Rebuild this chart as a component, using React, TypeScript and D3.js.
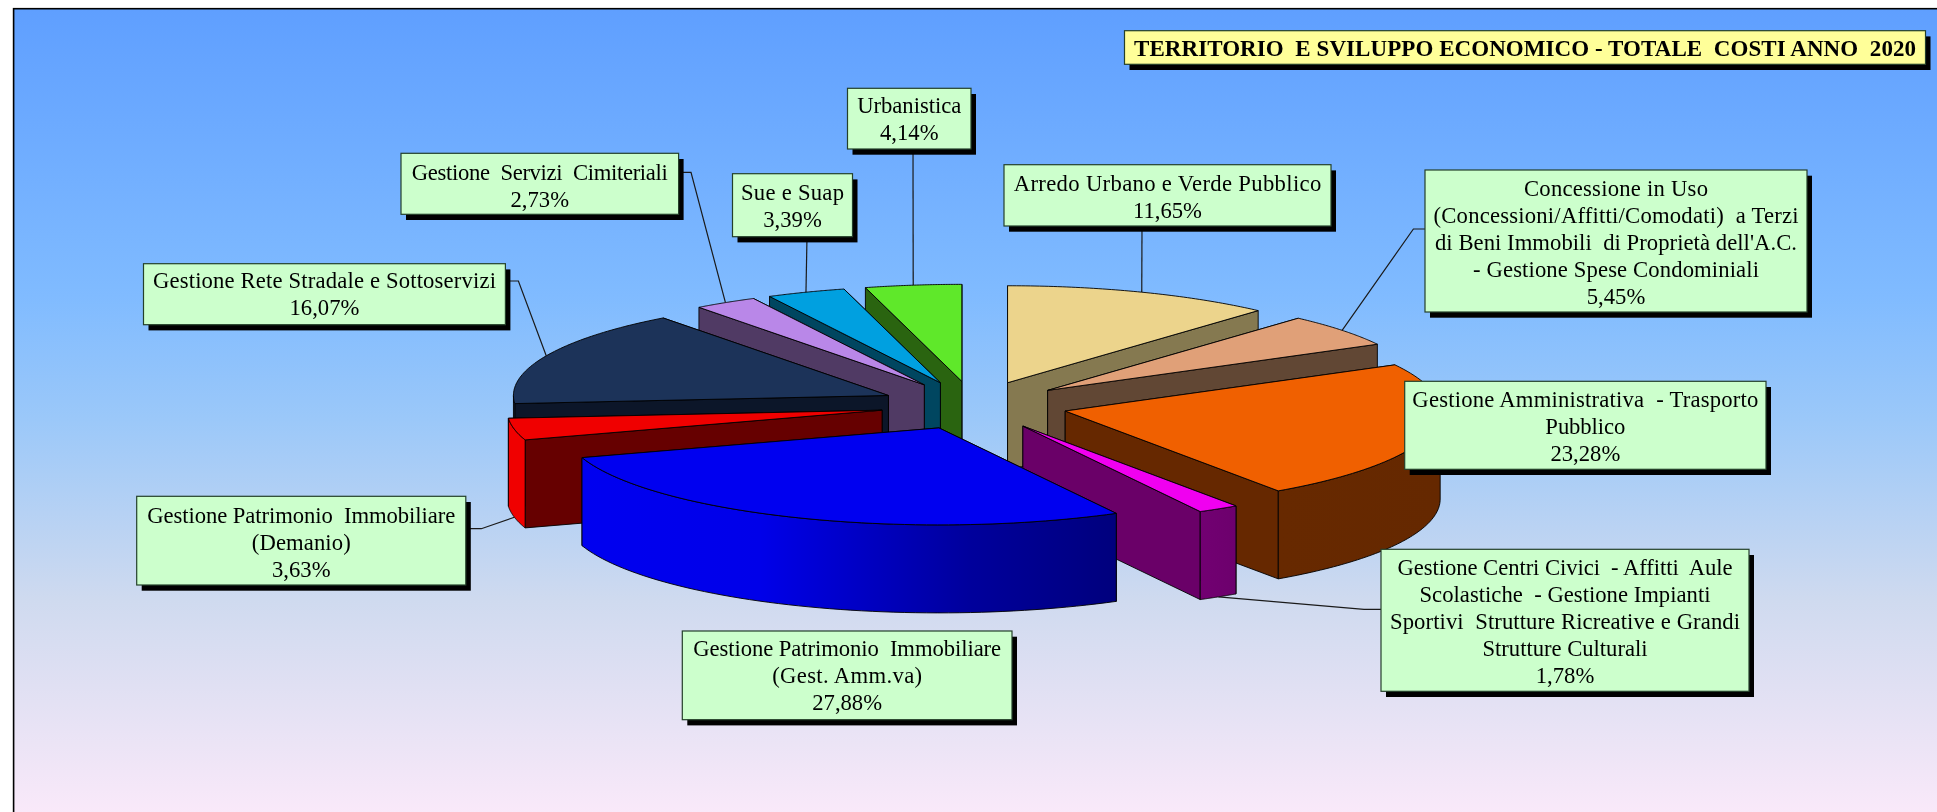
import React from "react";
import * as d3 from "d3";

const W = 1937, H = 812;

// ---- data ----
const sliceNames = ["Arredo", "Concessione", "Amministrativa", "CentriCivici", "PatrimonioGest", "Demanio", "Rete", "Cimiteriali", "Sue", "Urbanistica"];
const sliceValues = [11.65, 5.45, 23.28, 1.78, 27.88, 3.63, 16.07, 2.73, 3.39, 4.14];
const topColors = ["#ecd48c", "#e0a078", "#f06000", "#f000f0", "#0000f0", "#f00000", "#1c3359", "#b987e8", "#00a0e0", "#5fe82a"];
const wallColors = ["#857950", "#614734", "#662800", "#6a0068", "#000090", "#660000", "#0c1629", "#503a64", "#004660", "#2a6410"];

const labelLines: string[][] = [
  ["Arredo Urbano e Verde Pubblico", "11,65%"],
  ["Concessione in Uso", "(Concessioni/Affitti/Comodati)  a Terzi", "di Beni Immobili  di Proprietà dell'A.C.", "- Gestione Spese Condominiali", "5,45%"],
  ["Gestione Amministrativa  - Trasporto", "Pubblico", "23,28%"],
  ["Gestione Centri Civici  - Affitti  Aule", "Scolastiche  - Gestione Impianti", "Sportivi  Strutture Ricreative e Grandi", "Strutture Culturali", "1,78%"],
  ["Gestione Patrimonio  Immobiliare", "(Gest. Amm.va)", "27,88%"],
  ["Gestione Patrimonio  Immobiliare", "(Demanio)", "3,63%"],
  ["Gestione Rete Stradale e Sottoservizi", "16,07%"],
  ["Gestione  Servizi  Cimiteriali", "2,73%"],
  ["Sue e Suap", "3,39%"],
  ["Urbanistica", "4,14%"],
];
const titleText = "TERRITORIO  E SVILUPPO ECONOMICO - TOTALE  COSTI ANNO  2020";

// ---- layout ----
const cx = 974, cy = 405.4, rx = 375, ry = 97, depth = 88, explode = 0.25;
const labelBoxes = [
  [1004, 164.7, 1331, 226],
  [1425, 170, 1807, 312],
  [1404.7, 381.3, 1766, 469.3],
  [1381, 549.3, 1749, 691.3],
  [682.3, 631, 1012, 719.7],
  [136.7, 496.3, 465.8, 585],
  [143.5, 263.7, 505.4, 324.7],
  [401, 153.3, 678.6, 214.3],
  [732.5, 173.7, 852.5, 236.7],
  [847.5, 88.3, 971, 149],
];
const lineWidths: (number | null)[][] = [
  [307.5, null],
  [184, 365, 362, 286, null],
  [346, 80, null],
  [335, 291, 350, 165, null],
  [308, 150, null],
  [308, 99, null],
  [343, null],
  [256, null],
  [103, null],
  [104, null],
];
const baselineOffsets = [26.3, 25.7, 26, 26, 25, 26.4, 24.6, 26.7, 26.3, 24.3];
// leader: points after the rim anchor; bottom = anchor on lower rim
const leaderPoints: ([number, number][] | null)[] = [
  [[1142, 226]],
  [[1413.4, 229], [1425, 229]],
  null,
  [[1364, 609.3], [1381, 609.3]],
  null,
  [[481.3, 528.7], [465.8, 528.7]],
  [[518.4, 281], [505.4, 281]],
  [[691, 172.3], [678.6, 172.3]],
  [[807, 236.7]],
  [[913, 149]],
];
const bottomAnchored = [false, false, false, true, false, true, false, false, false, false];
const paintOrder = [0, 1, 2, 3, 9, 8, 7, 6, 5, 4];
const shadeX = [580, 760, 970, 1117, 1280, 1440];
const shadeK = [1, 0.97, 0.65, 0.52, 0.43, 0.42];

const sx = d3.scaleLinear().domain([-1, 1]).range([cx - rx, cx + rx]);
const sy = d3.scaleLinear().domain([-1, 1]).range([cy - ry, cy + ry]);
const arcs = d3.pie<number>().sort(null).value((d) => d)(sliceValues);
const line = d3.line<[number, number]>();
const closed = (p: [number, number][]) => line(p) + "Z";

export default function App() {
  const slices = arcs.map((a, i) => {
    const mid = (a.startAngle + a.endAngle) / 2;
    const ex = explode * Math.sin(mid), ey = -explode * Math.cos(mid);
    const pt = (t: number, r = 1, dz = 0): [number, number] => [
      sx(ex + r * Math.sin(t)),
      sy(ey - r * Math.cos(t)) + dz,
    ];
    const n = 60;
    const steps = d3.range(n + 1).map((k) => a.startAngle + ((a.endAngle - a.startAngle) * k) / n);
    const top = closed([pt(0, 0), ...steps.map((t) => pt(t))]);
    const wall = (t: number) => closed([pt(t, 0), pt(t), pt(t, 1, depth), pt(t, 0, depth)]);
    const lo = Math.max(a.startAngle, Math.PI / 2), hi = Math.min(a.endAngle, (3 * Math.PI) / 2);
    let outer: string | null = null;
    if (hi > lo) {
      const ts = d3.range(n + 1).map((k) => lo + ((hi - lo) * k) / n);
      outer = d3.area<number>()
        .x((t) => pt(t)[0])
        .y0((t) => pt(t)[1])
        .y1((t) => pt(t, 1, depth)[1])(ts);
    }
    const walls = mid < Math.PI ? [a.startAngle, a.endAngle] : [a.endAngle, a.startAngle];
    const anchor = pt(mid, 1, bottomAnchored[i] ? depth : 0);
    return { i, top, walls: walls.map(wall), outer, anchor };
  });
  const stroke = "#000";
  return (
    <svg width={W} height={H} viewBox={`0 0 ${W} ${H}`} style={{ position: "fixed", left: 0, top: 0, background: "#fff" }}
      fontFamily="'Liberation Serif', serif">
      <defs>
        <filter id="soft" x="0" y="0" width="100%" height="100%" filterUnits="userSpaceOnUse">
          <feGaussianBlur stdDeviation="0.45" />
        </filter>
        <linearGradient id="bg" x1="0" y1="0" x2="0" y2="1">
          <stop offset="0" stopColor="#5f9fff" />
          <stop offset="0.35" stopColor="#80bbff" />
          <stop offset="0.5" stopColor="#9bc8f9" />
          <stop offset="0.72" stopColor="#cfdaef" />
          <stop offset="1" stopColor="#fdeafa" />
        </linearGradient>
        {topColors.map((c, i) => (
          <linearGradient key={i} id={`o${i}`} gradientUnits="userSpaceOnUse" x1={shadeX[0]} x2={shadeX[shadeX.length - 1]} y1="0" y2="0">
            {shadeX.map((x, k) => {
              const col = d3.rgb(c);
              const f = shadeK[k];
              return (
                <stop key={k} offset={(x - shadeX[0]) / (shadeX[shadeX.length - 1] - shadeX[0])}
                  stopColor={d3.rgb(col.r * f, col.g * f, col.b * f).formatHex()} />
              );
            })}
          </linearGradient>
        ))}
      </defs>
      <g style={{ filter: "blur(0.45px)" }}>
        <rect x={13.6} y={8.7} width={W + 10} height={H + 10} fill="url(#bg)" stroke="#000" strokeWidth={1.6} />

        {leaderPoints.map((pts, i) =>
          pts ? (
            <path key={i} d={line([slices[i].anchor as [number, number], ...pts]) as string} fill="none" stroke="#1a1a1a" strokeWidth={1.2} />
          ) : null
        )}

        {paintOrder.map((i) => {
          const s = slices[i];
          return (
            <g key={i} stroke={stroke} strokeWidth={0.9} strokeLinejoin="round">
              {s.walls.map((d, k) => <path key={k} d={d} fill={wallColors[i]} />)}
              {s.outer && <path d={s.outer} fill={`url(#o${i})`} />}
              <path d={s.top} fill={topColors[i]} />
            </g>
          );
        })}

        {labelBoxes.map(([x0, y0, x1, y1], i) => (
          <g key={i}>
            <rect x={x0 + 5} y={y0 + 5.7} width={x1 - x0} height={y1 - y0} fill="#000" />
            <rect x={x0} y={y0} width={x1 - x0} height={y1 - y0} fill="#ccffcc" stroke="#24402a" strokeWidth={1.2} />
            {labelLines[i].map((t, k) => {
              const tl = lineWidths[i][k];
              return (
                <text key={k} x={(x0 + x1) / 2} y={y0 + baselineOffsets[i] + 27 * k} textAnchor="middle" fontSize={22.67} fill="#000"
                  style={{ whiteSpace: "pre" }} {...(tl ? { textLength: tl, lengthAdjust: "spacing" } : {})}>{t}</text>
              );
            })}
          </g>
        ))}

        <rect x={1129.5} y={36.4} width={801} height={33.6} fill="#000" />
        <rect x={1124.5} y={30.7} width={801} height={33.6} fill="#ffff99" stroke="#24402a" strokeWidth={1.2} />
        <text x={1525} y={56} textAnchor="middle" fontSize={23} fontWeight="bold" fill="#000" textLength={782} lengthAdjust="spacing" style={{ whiteSpace: "pre" }}>{titleText}</text>
      </g>
    </svg>
  );
}
